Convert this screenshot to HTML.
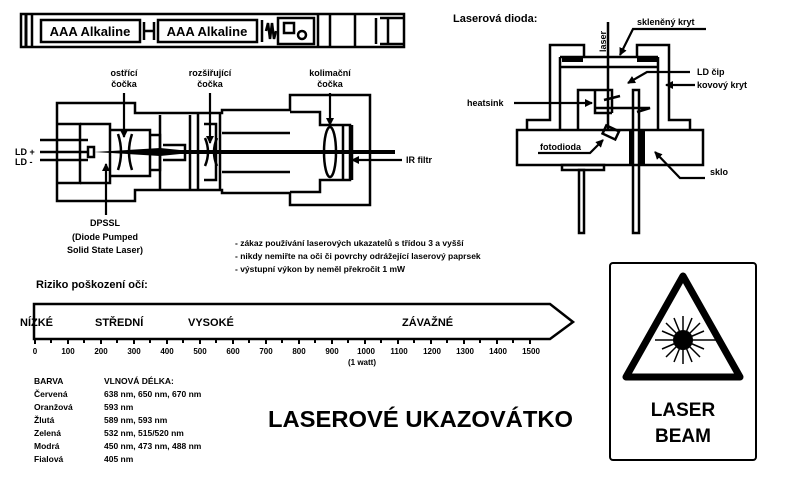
<!DOCTYPE html>
<html><head><meta charset="utf-8"><style>
body{margin:0;background:#fff}
svg{display:block}
text{font-family:"Liberation Sans",sans-serif;font-weight:bold;fill:#000}
</style></head><body>
<svg width="800" height="480" viewBox="0 0 800 480" xmlns="http://www.w3.org/2000/svg">
<defs><marker id="a" markerWidth="8" markerHeight="8" refX="7" refY="4" orient="auto" markerUnits="userSpaceOnUse"><path d="M0,0L8,4L0,8z" fill="#000"/></marker></defs>
<g fill="none" stroke="#000" stroke-width="2.5">
<!-- battery tube -->
<rect x="21" y="14" width="383" height="33"/>
<line x1="26" y1="14" x2="26" y2="47" stroke-width="3"/>
<line x1="32" y1="14" x2="32" y2="47"/>
<rect x="41" y="20" width="99" height="22"/>
<rect x="158" y="20" width="99" height="22"/>
<path d="M144,22v18M154,22v18M144,31h10"/>
<path d="M262,20v22M266,31l2,-8l2,16l2,-16l2,16l2,-8"/>
<rect x="278" y="18" width="36" height="26"/>
<rect x="284" y="23" width="10" height="10"/>
<circle cx="302" cy="35" r="4"/>
<path d="M318,14v33M330,14v33M355,14v33M376,18v26M380,18h24M380,44h24M388,18v26"/>
<!-- laser module -->
<path d="M57,103H135V113H222V110H290V95H370V205H290V193H222V190H135V201H57Z"/>
<path d="M57,124H80V183H57"/>
<path d="M80,124H110V183H80"/>
<path d="M110,130H150V176H110"/>
<path d="M150,135H160V170H150"/>
<path d="M160,115V190M190,115V190"/>
<path d="M163,145H185V160H163"/>
<path d="M198,112V190M220,112V190"/>
<path d="M204,124H216V180H204"/>
<path d="M222,133H290M222,172H290"/>
<path d="M290,112H320V125H350V180H320V192H290"/>
<path d="M343,125V180M352,125V180"/>
<path d="M40,140H88M40,152H88M40,160H88"/>
<rect x="88" y="147" width="6" height="10"/>
<path d="M118,134q6,18 0,36M132,134q-6,18 0,36"/>
<path d="M205,138q6,14 0,28M217,138q-6,14 0,28"/>
<ellipse cx="330" cy="152" rx="6" ry="25"/>
</g>
<text x="90" y="36" font-size="13" text-anchor="middle">AAA Alkaline</text>
<text x="207" y="36" font-size="13" text-anchor="middle">AAA Alkaline</text>
<path d="M94,152L160,148L200,152L160,156Z" fill="#000"/>
<rect x="180" y="150" width="215" height="4" fill="#000"/>
<g stroke="#000" stroke-width="2.2" marker-end="url(#a)">
<line x1="124" y1="93" x2="124" y2="137"/>
<line x1="210" y1="93" x2="210" y2="143"/>
<line x1="330" y1="93" x2="330" y2="125"/>
<line x1="106" y1="215" x2="106" y2="164"/>
<line x1="402" y1="160" x2="352" y2="160"/>
</g>
<g font-size="9" text-anchor="middle">
<text x="124" y="76">ostřící</text><text x="124" y="87">čočka</text>
<text x="210" y="76">rozšiřující</text><text x="210" y="87">čočka</text>
<text x="330" y="76">kolimační</text><text x="330" y="87">čočka</text>
<text x="105" y="226">DPSSL</text><text x="105" y="240">(Diode Pumped</text><text x="105" y="253">Solid State Laser)</text>
</g>
<text x="15" y="155" font-size="9">LD +</text><text x="15" y="165" font-size="9">LD -</text>
<text x="406" y="163" font-size="9">IR filtr</text>
<!-- laser diode -->
<text x="453" y="22" font-size="11">Laserová dioda:</text>
<g fill="none" stroke="#000" stroke-width="2.5">
<path d="M527,130V120H550V45H584V57M637,57V45H669V120H690V130"/>
<path d="M560,57H658M560,67H658M560,57V130M658,57V130"/>
<rect x="517" y="130" width="186" height="35"/>
<rect x="562" y="165" width="42" height="5"/>
<rect x="579" y="170" width="5" height="63"/>
<rect x="633" y="90" width="6" height="143"/>
<path d="M578,130V90H612V113M595,90V113H612M595,108H650L637,112"/>
<path d="M604,100L620,96" />
<rect x="604" y="128" width="14" height="9" transform="rotate(25 611 132)"/>
<line x1="608" y1="22" x2="608" y2="130"/>
</g>
<rect x="562" y="57" width="21" height="5"/><rect x="637" y="57" width="21" height="5"/>
<rect x="629" y="130" width="4" height="35"/><rect x="640" y="130" width="5" height="35"/>
<g stroke="#000" stroke-width="2.2" fill="none">
<path d="M706,29H633L620,55" marker-end="url(#a)"/>
<path d="M690,72H647L628,83" marker-end="url(#a)"/>
<path d="M695,85H666" marker-end="url(#a)"/>
<path d="M514,103H592" marker-end="url(#a)"/>
<path d="M538,153H590L603,140" marker-end="url(#a)"/>
<path d="M705,178H680L655,152" marker-end="url(#a)"/>
</g>
<g font-size="9">
<text x="637" y="25">skleněný kryt</text>
<text x="697" y="75">LD čip</text>
<text x="697" y="88">kovový kryt</text>
<text x="467" y="106">heatsink</text>
<text x="540" y="150">fotodioda</text>
<text x="710" y="175">sklo</text>
<text transform="translate(606,52) rotate(-90)" font-weight="normal">laser</text>
</g>
<!-- notes -->
<g font-size="8.5">
<text x="235" y="246">- zákaz používání laserových ukazatelů s třídou 3 a vyšší</text>
<text x="235" y="259">- nikdy nemiřte na oči či povrchy odrážející laserový paprsek</text>
<text x="235" y="272">- výstupní výkon by neměl překročit 1 mW</text>
</g>
<text x="36" y="288" font-size="11">Riziko poškození očí:</text>
<path d="M34,304H550L573,322L550,339H34Z" fill="none" stroke="#000" stroke-width="2.5"/>
<g font-size="11">
<text x="20" y="326">NÍZKÉ</text><text x="95" y="326">STŘEDNÍ</text><text x="188" y="326">VYSOKÉ</text><text x="402" y="326">ZÁVAŽNÉ</text>
</g>
<g stroke="#000" stroke-width="2">
<path d="M35,339v5M51,339v4M68,339v5M84,339v4M101,339v5M117,339v4M134,339v5M150,339v4M167,339v5M183,339v4M200,339v5M216,339v4M233,339v5M249,339v4M266,339v5M282,339v4M299,339v5M315,339v4M332,339v5M348,339v4M365,339v5M381,339v4M398,339v5M414,339v4M431,339v5M447,339v4M464,339v5M480,339v4M497,339v5M513,339v4M530,339v5"/>
</g>
<g font-size="8" text-anchor="middle">
<text x="35" y="354">0</text><text x="68" y="354">100</text><text x="101" y="354">200</text><text x="134" y="354">300</text><text x="167" y="354">400</text><text x="200" y="354">500</text><text x="233" y="354">600</text><text x="266" y="354">700</text><text x="299" y="354">800</text><text x="332" y="354">900</text><text x="366" y="354">1000</text><text x="399" y="354">1100</text><text x="432" y="354">1200</text><text x="465" y="354">1300</text><text x="498" y="354">1400</text><text x="531" y="354">1500</text>
<text x="362" y="365">(1 watt)</text>
</g>
<g font-size="8.5">
<text x="34" y="384">BARVA</text><text x="104" y="384">VLNOVÁ DÉLKA:</text>
<text x="34" y="397">Červená</text><text x="104" y="397">638 nm, 650 nm, 670 nm</text>
<text x="34" y="410">Oranžová</text><text x="104" y="410">593 nm</text>
<text x="34" y="423">Žlutá</text><text x="104" y="423">589 nm, 593 nm</text>
<text x="34" y="436">Zelená</text><text x="104" y="436">532 nm, 515/520 nm</text>
<text x="34" y="449">Modrá</text><text x="104" y="449">450 nm, 473 nm, 488 nm</text>
<text x="34" y="462">Fialová</text><text x="104" y="462">405 nm</text>
</g>
<text x="268" y="427" font-size="23.5" textLength="305" lengthAdjust="spacingAndGlyphs">LASEROVÉ UKAZOVÁTKO</text>
<!-- sign -->
<rect x="610" y="263" width="146" height="197" rx="3" fill="none" stroke="#000" stroke-width="2"/>
<path d="M683,276L626,377H740Z" fill="none" stroke="#000" stroke-width="7" stroke-linejoin="round"/>
<circle cx="683" cy="340" r="10" fill="#000"/>
<g stroke="#000" stroke-width="1.5">
<line x1="655" y1="340" x2="717" y2="340"/>
<line x1="683" y1="316" x2="683" y2="364"/>
<line x1="666" y1="323" x2="700" y2="357"/>
<line x1="700" y1="323" x2="666" y2="357"/>
<line x1="674" y1="318" x2="692" y2="362"/>
<line x1="692" y1="318" x2="674" y2="362"/>
<line x1="662" y1="331" x2="704" y2="349"/>
<line x1="662" y1="349" x2="704" y2="331"/>
</g>
<text x="683" y="416" font-size="19" font-weight="normal" text-anchor="middle">LASER</text>
<text x="683" y="442" font-size="19" font-weight="normal" text-anchor="middle">BEAM</text>
</svg>
</body></html>
